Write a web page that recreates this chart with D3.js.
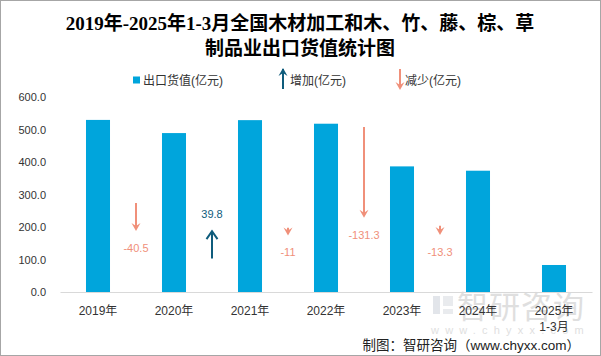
<!DOCTYPE html>
<html><head><meta charset="utf-8">
<script src="https://cdn.jsdelivr.net/npm/d3@7"></script>
<style>
html,body{margin:0;padding:0;background:#fff;}
svg{display:block;}
text{font-family:"Liberation Sans","Noto Sans CJK SC",sans-serif;}
</style></head>
<body>
<svg id="chart" width="601" height="356"></svg>
<script>
// ---- data ----
const categories = ["2019年","2020年","2021年","2022年","2023年","2024年","2025年"];
const subLabels  = ["","","","","","","1-3月"];
const exportValues = [529.5, 489.0, 528.8, 517.8, 386.5, 373.2, 83.1];
const changes = [-40.5, 39.8, -11, -131.3, -13.3];
const yTicks = [0, 100, 200, 300, 400, 500, 600];
const titleLines = ["2019年-2025年1-3月全国木材加工和木、竹、藤、棕、草", "制品业出口货值统计图"];
const legendLabels = ["出口货值(亿元)", "增加(亿元)", "减少(亿元)"];
const sourceText = "制图：智研咨询（www.chyxx.com）";

// ---- styles ----
const barColor = "#00A5DC";
const upColor = "#0F5C7C";
const downColor = "#F0907A";
const textColor = "#333333";

const svg = d3.select("#chart");
svg.append("rect").attr("x",0.5).attr("y",0.5).attr("width",600).attr("height",355)
  .attr("fill","#fff").attr("stroke","#a6a6a6");

// title
svg.append("g").selectAll("text").data(titleLines).join("text")
  .attr("x", 300).attr("y", (d,i) => 30 + i*25)
  .attr("text-anchor","middle").attr("font-size", 19).attr("font-weight","bold")
  .attr("fill","#000")
  .style("font-family", '"Liberation Serif","Noto Sans CJK SC",serif')
  .text(d => d);

// scales
const x = d3.scaleBand().domain(categories).range([60, 592]).paddingInner(0.684).paddingOuter(0.342);
const y = d3.scaleLinear().domain([0, 600]).range([292, 97]);
const arrowLen = d3.scaleLinear().domain([0, 100]).range([0, 69]);
const tipY = d3.scaleLinear().domain([0, 100]).range([237, 222.3]);

// watermark
const wm = svg.append("g").attr("opacity", 0.4);
wm.append("rect").attr("x",433).attr("y",296).attr("width",7).attr("height",18).attr("fill","#b8c0cc");
wm.append("path").attr("d","M443,296 h10 v10 h-10 z M443,309 h10 v5 h-10 z").attr("fill","#c9ced6");
wm.append("text").attr("x", 457).attr("y", 318).attr("font-size", 31).attr("fill", "#b0b0b0")
  .attr("letter-spacing", 1).text("智研咨询");
wm.append("text").attr("x", 431).attr("y", 334).attr("font-size", 11).attr("fill", "#b0b0b0")
  .attr("letter-spacing", 6.2).text("www.chyxx.com");

// y axis
const yAxis = d3.axisLeft(y).tickValues(yTicks).tickFormat(d3.format(".1f")).tickSize(0).tickPadding(0);
const gy = svg.append("g").attr("transform","translate(46,0)").call(yAxis);
gy.select(".domain").remove();
gy.selectAll("text").attr("font-size", 11).attr("fill", textColor)
  .style("font-family",'"Liberation Sans",sans-serif');

// bars
svg.append("g").selectAll("rect").data(exportValues).join("rect")
  .attr("x", (d,i) => x(categories[i]))
  .attr("width", x.bandwidth())
  .attr("y", d => y(d))
  .attr("height", d => y(0) - y(d))
  .attr("fill", barColor);

// x axis
const xAxis = d3.axisBottom(x).tickSize(0).tickPadding(0);
const gx = svg.append("g").attr("transform", `translate(0,${y(0)})`).call(xAxis);
gx.select(".domain").attr("stroke", "#d9d9d9").attr("stroke-width", 1);
gx.selectAll(".tick text").remove();
gx.selectAll(".tick").each(function(d, i) {
  d3.select(this).append("text").attr("fill", textColor).attr("font-size", 12)
    .attr("text-anchor","middle").attr("y", 23).text(d);
  if (subLabels[i]) {
    d3.select(this).append("text").attr("fill", textColor).attr("font-size", 12)
      .attr("text-anchor","middle").attr("y", 39).text(subLabels[i]);
  }
});

// change arrows
function drawArrow(g, cx, tip, tail, up, color, openHead) {
  g.append("line").attr("x1", cx).attr("x2", cx)
    .attr("y1", tail).attr("y2", up ? tip + 1 : tip - 2)
    .attr("stroke", color).attr("stroke-width", 2);
  const s = up ? 1 : -1;
  if (openHead) {
    g.append("path").attr("d", `M${cx-5.5},${tip + s*8} L${cx},${tip} L${cx+5.5},${tip + s*8}`)
      .attr("fill","none").attr("stroke", color).attr("stroke-width", 2);
  } else {
    g.append("path").attr("d", `M${cx-4.5},${tip + s*8} L${cx},${tip} L${cx+4.5},${tip + s*8} L${cx},${tip + s*5} Z`)
      .attr("fill", color);
  }
}
const ga = svg.append("g");
changes.forEach((d, i) => {
  const cx = x(categories[i]) + x.bandwidth()/2 + x.step()/2;
  const up = d > 0;
  const color = up ? upColor : downColor;
  const tip = tipY(Math.abs(d));
  const tail = up ? tip + arrowLen(d) : tip - arrowLen(-d);
  drawArrow(ga, cx, tip, tail, up, color, up);
  ga.append("text").attr("x", cx).attr("y", up ? tip - 13 : tip + 21)
    .attr("text-anchor","middle").attr("font-size", 11).attr("fill", color)
    .text(String(d));
});

// legend
const lg = svg.append("g");
lg.append("rect").attr("x",133).attr("y",76.5).attr("width",7).attr("height",7).attr("fill",barColor);
lg.append("text").attr("x",143).attr("y",84.5).attr("font-size",12).attr("fill",textColor).text(legendLabels[0]);
drawArrow(lg, 283, 68, 89, true, upColor, false);
lg.append("text").attr("x",290).attr("y",84.5).attr("font-size",12).attr("fill",textColor).text(legendLabels[1]);
drawArrow(lg, 400, 90, 69, false, downColor, false);
lg.append("text").attr("x",405).attr("y",84.5).attr("font-size",12).attr("fill",textColor).text(legendLabels[2]);

// source
svg.append("text").attr("x", 580).attr("y", 350).attr("text-anchor","end")
  .attr("font-size", 13.5).attr("fill", "#222").text(sourceText);
</script>
</body></html>
